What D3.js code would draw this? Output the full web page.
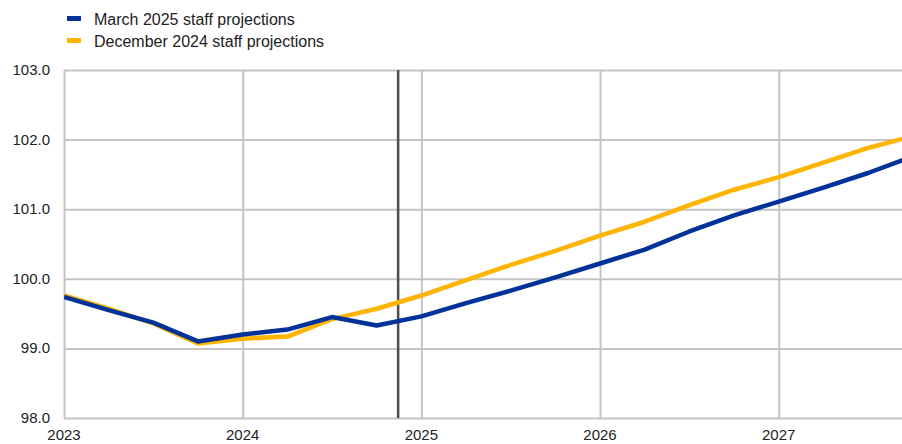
<!DOCTYPE html>
<html lang="en">
<head>
<meta charset="utf-8">
<style type="text/css">
    body { margin: 0; background: #fff; }
    text { font-family: "Liberation Sans", Arial, sans-serif; fill: #222; }
    .grid line { stroke: #c4c4c4; stroke-width: 2px; }
</style>
</head>
<body>
<svg width="902" height="444"></svg>
<script src="https://cdn.jsdelivr.net/npm/d3@7/dist/d3.min.js"></script>
<script type="text/javascript">
    // quarterly points, 2023Q1 .. 2027Q4
    var quarters = [2023, 2023.25, 2023.5, 2023.75, 2024, 2024.25, 2024.5, 2024.75,
                    2025, 2025.25, 2025.5, 2025.75, 2026, 2026.25, 2026.5, 2026.75,
                    2027, 2027.25, 2027.5, 2027.75];
    var march2025 = [99.74, 99.55, 99.37, 99.10, 99.20, 99.27, 99.45, 99.33,
                     99.46, 99.65, 99.83, 100.02, 100.22, 100.42, 100.68, 100.91,
                     101.11, 101.31, 101.52, 101.76];
    var december2024 = [99.76, 99.57, 99.36, 99.07, 99.14, 99.17, 99.42, 99.57,
                        99.76, 99.98, 100.20, 100.40, 100.62, 100.82, 101.06, 101.28,
                        101.46, 101.67, 101.88, 102.05];
    var yTicks = [98, 99, 100, 101, 102, 103];
    var yearTicks = [2023, 2024, 2025, 2026, 2027];
    var cutoff = 2024.87;
    var seriesNames = ["March 2025 staff projections", "December 2024 staff projections"];
    var seriesColors = ["#003299", "#ffb400"];

    var svg = d3.select("svg"),
        plotLeft = 64, plotRight = 902, plotTop = 70, plotBottom = 418;

    var x = d3.scaleLinear().domain([2023, 2027.69]).range([plotLeft, plotRight]);
    var y = d3.scaleLinear().domain([98, 103]).range([plotBottom, plotTop]);

    svg.append("defs").append("clipPath").attr("id", "plot")
        .append("rect").attr("x", plotLeft).attr("y", 0)
        .attr("width", plotRight - plotLeft).attr("height", plotBottom);

    // gridlines
    svg.append("g").attr("class", "grid")
        .attr("transform", "translate(" + plotLeft + ",0)")
        .call(d3.axisLeft(y).tickValues(yTicks).tickSize(-(plotRight - plotLeft)).tickFormat(""))
        .call(g => g.select(".domain").remove());
    svg.append("g").attr("class", "grid")
        .attr("transform", "translate(0," + plotTop + ")")
        .call(d3.axisBottom(x).tickValues(yearTicks).tickSize(plotBottom - plotTop).tickFormat(""))
        .call(g => g.select(".domain").remove());

    // axis labels
    svg.append("g").selectAll("text").data(yTicks).enter().append("text")
        .attr("x", 50).attr("y", d => y(d) + 5)
        .attr("text-anchor", "end").style("font-size", "15px")
        .text(d => d.toFixed(1));
    svg.append("g").selectAll("text").data(yearTicks).enter().append("text")
        .attr("x", d => x(d)).attr("y", 440)
        .attr("text-anchor", "middle").style("font-size", "15px")
        .text(d => d);

    // cut-off line
    svg.append("line")
        .attr("x1", x(cutoff)).attr("x2", x(cutoff))
        .attr("y1", plotTop).attr("y2", plotBottom)
        .attr("stroke", "#4d4d4d").attr("stroke-width", 2.5);

    var line = d3.line().x((d, i) => x(quarters[i])).y(d => y(d));

    [december2024, march2025].forEach(function (s, k) {
        svg.append("path")
            .datum(s)
            .attr("clip-path", "url(#plot)")
            .attr("fill", "none")
            .attr("stroke", seriesColors[1 - k])
            .attr("stroke-width", 4.5)
            .attr("stroke-linejoin", "round")
            .attr("d", line);
    });

    // legend
    var legend = svg.append("g").selectAll("g").data(seriesNames).enter().append("g")
        .attr("transform", (d, i) => "translate(67," + (19 + i * 22) + ")");
    legend.append("rect").attr("x", 0).attr("y", -3).attr("width", 14).attr("height", 5)
        .attr("fill", (d, i) => seriesColors[i]);
    legend.append("text").attr("x", 27).attr("y", 6).style("font-size", "16px").text(d => d);
</script>
</body>
</html>
